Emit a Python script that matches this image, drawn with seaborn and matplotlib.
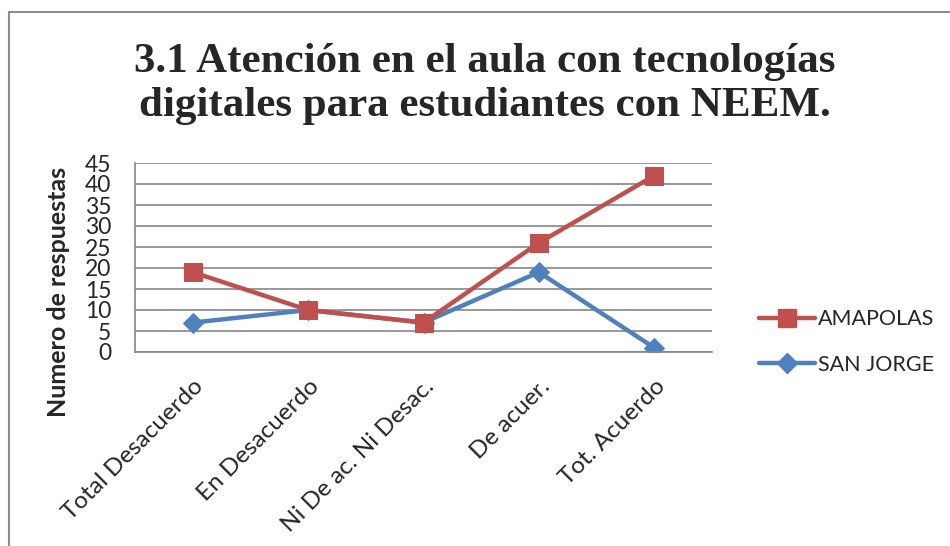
import matplotlib
matplotlib.use("Agg")
import matplotlib.pyplot as plt
import seaborn as sns
import pandas as pd
from matplotlib.patches import Rectangle
from matplotlib.lines import Line2D

categories = ["Total Desacuerdo", "En Desacuerdo", "Ni De ac. Ni Desac.", "De acuer.", "Tot. Acuerdo"]
amapolas = [19, 10, 7, 26, 42]
san_jorge = [7, 10, 7, 19, 1]
series_names = ["AMAPOLAS", "SAN JORGE"]
yticks = list(range(0, 50, 5))

df = pd.DataFrame({
    "cat": categories * 2,
    "val": amapolas + san_jorge,
    "serie": [series_names[0]] * 5 + [series_names[1]] * 5,
})

sns.set_theme(style="white")
plt.rcParams["font.family"] = ["Lato", "DejaVu Sans"]

red = "#C0504D"
blue = "#4F81BD"
grid = "#868686"

fig = plt.figure(figsize=(9.5, 5.46), dpi=100)
ax = fig.add_axes([135/950, 1-352/546, 577/950, 189/546])

for name, color, mk, ms in [(series_names[1], blue, "D", 10), (series_names[0], red, "s", 13)]:
    sub = df[df["serie"] == name]
    sns.lineplot(data=sub, x="cat", y="val", ax=ax, color=color, marker=mk,
                 markersize=ms, markeredgecolor=color, linewidth=3.2, legend=False,
                 sort=False, zorder=3 if name == series_names[0] else 2)

ax.set_xlim(-0.5, 4.5)
ax.set_ylim(0, 45)
ax.set_yticks(yticks)
ax.set_yticklabels([str(t) for t in yticks], fontsize=16.5)
ax.set_xticks(range(len(categories)))
ax.set_xticklabels(categories, rotation=45, ha="right", va="top",
                   rotation_mode="anchor", fontsize=17.5)
ax.tick_params(axis="y", length=0, pad=17)
ax.tick_params(axis="x", length=0, pad=17)
ax.set_xlabel("")
ax.set_ylabel("Numero de respuestas", fontsize=18, fontweight="bold")
ax.yaxis.set_label_coords((70 - 135) / 577, (352 - 292) / 189)
ax.yaxis.grid(True, color=grid, linewidth=1.2)
ax.set_axisbelow(True)
for s in ["top", "right"]:
    ax.spines[s].set_visible(False)
for s in ["left", "bottom"]:
    ax.spines[s].set_color(grid)
    ax.spines[s].set_linewidth(1.2)

handles = [
    Line2D([0], [0], color=red, marker="s", markersize=13, linewidth=3.2),
    Line2D([0], [0], color=blue, marker="D", markersize=10, linewidth=3.2),
]
fig.legend(handles, series_names, loc="center left", bbox_to_anchor=(750/950, 1-342/546),
           frameon=False, fontsize=15.5, handlelength=2.6, handletextpad=0.15,
           labelspacing=1.2, borderaxespad=0)

fig.text(485/950, 1-84/546, "3.1 Atención en el aula con tecnologías\ndigitales para estudiantes con NEEM.",
         ha="center", va="center", fontsize=31, fontweight="bold",
         family="Liberation Serif", linespacing=1.2)

fig.patches.append(Rectangle((9/950, -0.1), 1.2, 1 - 12/546 + 0.1, transform=fig.transFigure,
                             fill=False, edgecolor="#8c8c8c", linewidth=1.5, figure=fig))

fig.savefig("out.png", dpi=100)
